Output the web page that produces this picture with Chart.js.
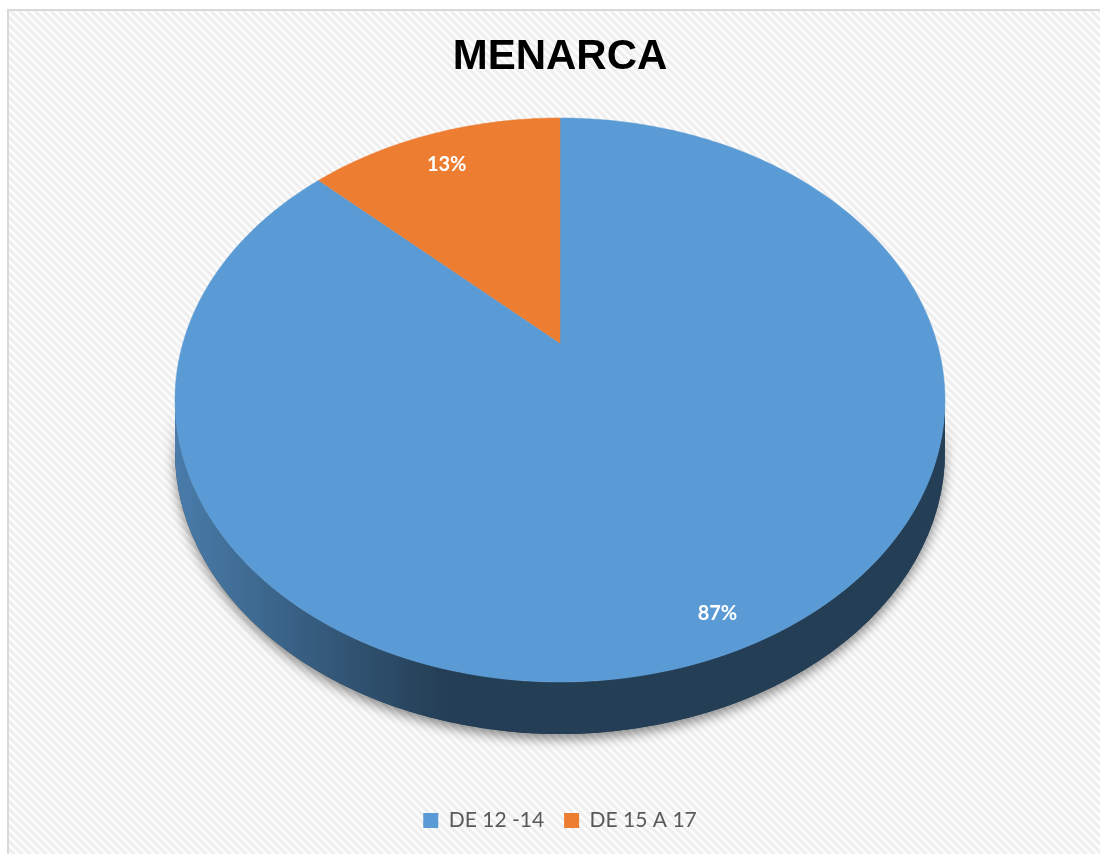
<!DOCTYPE html>
<html>
<head>
<meta charset="utf-8">
<title>MENARCA</title>
<script src="https://cdn.jsdelivr.net/npm/chart.js@4/dist/chart.umd.min.js"></script>
<style>
  html, body { margin: 0; padding: 0; background: #fff; }
  #caja { width: 1100px; height: 854px; position: relative; }
</style>
</head>
<body>
<div id="caja"><canvas id="menarca"></canvas></div>
<script>
// datos del grafico
const categorias = ['DE 12 -14', 'DE 15 A 17'];
const valores = [87, 13];
const colores = ['#5b9bd5', '#ed7d31'];

// elipse de la cara superior (pie "3D" con perspectiva)
const CX = 560, CY = 400, RX = 385, RY = 282, PROF = 52;
const T = -0.202; // desplazamiento del centro por la perspectiva

function oscurecer(hex, f) {
  const n = parseInt(hex.slice(1), 16);
  const r = Math.round(((n >> 16) & 255) * f);
  const g = Math.round(((n >> 8) & 255) * f);
  const b = Math.round((n & 255) * f);
  return `rgb(${r},${g},${b})`;
}

// circulo unidad -> plano inclinado (normalizado)
function plano(u, v) {
  const d = 1 + T * v;
  return [u * Math.sqrt(1 - T * T) / d, (v + T) / d];
}
function pantalla(u, v) {
  const p = plano(u, v);
  return [CX + RX * p[0], CY + RY * p[1]];
}

// fondo rayado + marco
const fondo = {
  id: 'fondo',
  beforeDraw(chart) {
    const ctx = chart.ctx;
    const t = document.createElement('canvas');
    t.width = 8; t.height = 8;
    const tc = t.getContext('2d');
    tc.fillStyle = '#fdfdfd';
    tc.fillRect(0, 0, 8, 8);
    tc.strokeStyle = '#eeeeee';
    tc.lineWidth = 3;
    for (let k = -1; k <= 1; k++) {
      tc.beginPath();
      tc.moveTo(-1, k * 8 - 1);
      tc.lineTo(9, 8 + k * 8 + 1);
      tc.stroke();
    }
    ctx.save();
    ctx.fillStyle = '#ffffff';
    ctx.fillRect(0, 0, chart.width, chart.height);
    ctx.fillStyle = ctx.createPattern(t, 'repeat');
    ctx.fillRect(8, 11, chart.width - 8, chart.height - 11);
    ctx.strokeStyle = '#d9d9d9';
    ctx.lineWidth = 2;
    ctx.beginPath();
    ctx.moveTo(8, chart.height);
    ctx.lineTo(8, 10);
    ctx.lineTo(chart.width, 10);
    ctx.stroke();
    ctx.restore();
  }
};

// tramo visible [0, PI] del lateral de cada arco
function tramoVisible(a0, a1) {
  const p0 = plano(Math.cos(a0), Math.sin(a0));
  const p1 = plano(Math.cos(a1), Math.sin(a1));
  let b0 = Math.atan2(p0[1], p0[0]);
  let b1 = Math.atan2(p1[1], p1[0]);
  while (b1 <= b0) b1 += 2 * Math.PI;
  for (let k = -2; k <= 2; k++) {
    const s = Math.max(b0 + k * 2 * Math.PI, 0);
    const e = Math.min(b1 + k * 2 * Math.PI, Math.PI);
    if (e > s) return [s, e];
  }
  return null;
}

const pie3d = {
  id: 'pie3d',
  beforeDatasetsDraw(chart) {
    const ctx = chart.ctx;
    const meta = chart.getDatasetMeta(0);
    // lateral del pastel
    meta.data.forEach((arc, i) => {
      const t = tramoVisible(arc.startAngle, arc.endAngle);
      if (!t) return;
      const camino = () => {
        ctx.beginPath();
        ctx.ellipse(CX, CY, RX, RY, 0, t[0], t[1]);
        ctx.ellipse(CX, CY + PROF, RX, RY, 0, t[1], t[0], true);
        ctx.closePath();
      };
      ctx.save();
      ctx.shadowColor = 'rgba(0,0,0,0.45)';
      ctx.shadowBlur = 12;
      ctx.shadowOffsetY = 5;
      ctx.fillStyle = oscurecer(colores[i], 0.4);
      camino();
      ctx.fill();
      ctx.restore();
      const g = ctx.createLinearGradient(CX - RX, 0, CX - RX * 0.3, 0);
      g.addColorStop(0, oscurecer(colores[i], 0.8));
      g.addColorStop(1, oscurecer(colores[i], 0.4));
      ctx.save();
      ctx.fillStyle = g;
      camino();
      ctx.fill();
      ctx.restore();
    });
    // cara superior: cada sector con sus angulos, proyectado
    meta.data.forEach((arc) => {
      const n = Math.max(8, Math.ceil((arc.endAngle - arc.startAngle) * 60));
      ctx.save();
      ctx.fillStyle = arc.options.backgroundColor;
      ctx.strokeStyle = arc.options.backgroundColor;
      ctx.lineWidth = 0.5;
      ctx.beginPath();
      const c = pantalla(0, 0);
      ctx.moveTo(c[0], c[1]);
      for (let k = 0; k <= n; k++) {
        const a = arc.startAngle + (arc.endAngle - arc.startAngle) * k / n;
        const p = pantalla(Math.cos(a), Math.sin(a));
        ctx.lineTo(p[0], p[1]);
      }
      ctx.closePath();
      ctx.fill();
      ctx.stroke();
      ctx.restore();
    });
    // etiquetas de porcentaje
    const total = valores.reduce((s, v) => s + v, 0);
    ctx.save();
    ctx.fillStyle = '#ffffff';
    ctx.font = 'bold 20px Lato';
    ctx.textAlign = 'center';
    ctx.textBaseline = 'middle';
    meta.data.forEach((arc, i) => {
      const m = (arc.startAngle + arc.endAngle) / 2;
      const p = pantalla(0.88 * Math.cos(m), 0.88 * Math.sin(m));
      ctx.fillText(Math.round(valores[i] / total * 100) + '%', p[0], p[1] + 9);
    });
    ctx.restore();
    return false;
  }
};

new Chart(document.getElementById('menarca'), {
  type: 'pie',
  data: {
    labels: categorias,
    datasets: [{
      data: valores,
      backgroundColor: colores,
      borderWidth: 0
    }]
  },
  options: {
    responsive: true,
    maintainAspectRatio: false,
    animation: false,
    layout: { padding: { top: 10, bottom: 13, left: 20, right: 0 } },
    plugins: {
      title: {
        display: true,
        text: 'MENARCA',
        color: '#000000',
        font: { family: 'Liberation Sans', size: 42, weight: 'bold' },
        padding: { top: 22, bottom: 10 }
      },
      legend: {
        position: 'bottom',
        labels: {
          boxWidth: 15,
          boxHeight: 15,
          padding: 20,
          color: '#595959',
          font: { family: 'Lato', size: 21 }
        }
      },
      tooltip: { enabled: false }
    }
  },
  plugins: [fondo, pie3d]
});
</script>
</body>
</html>
